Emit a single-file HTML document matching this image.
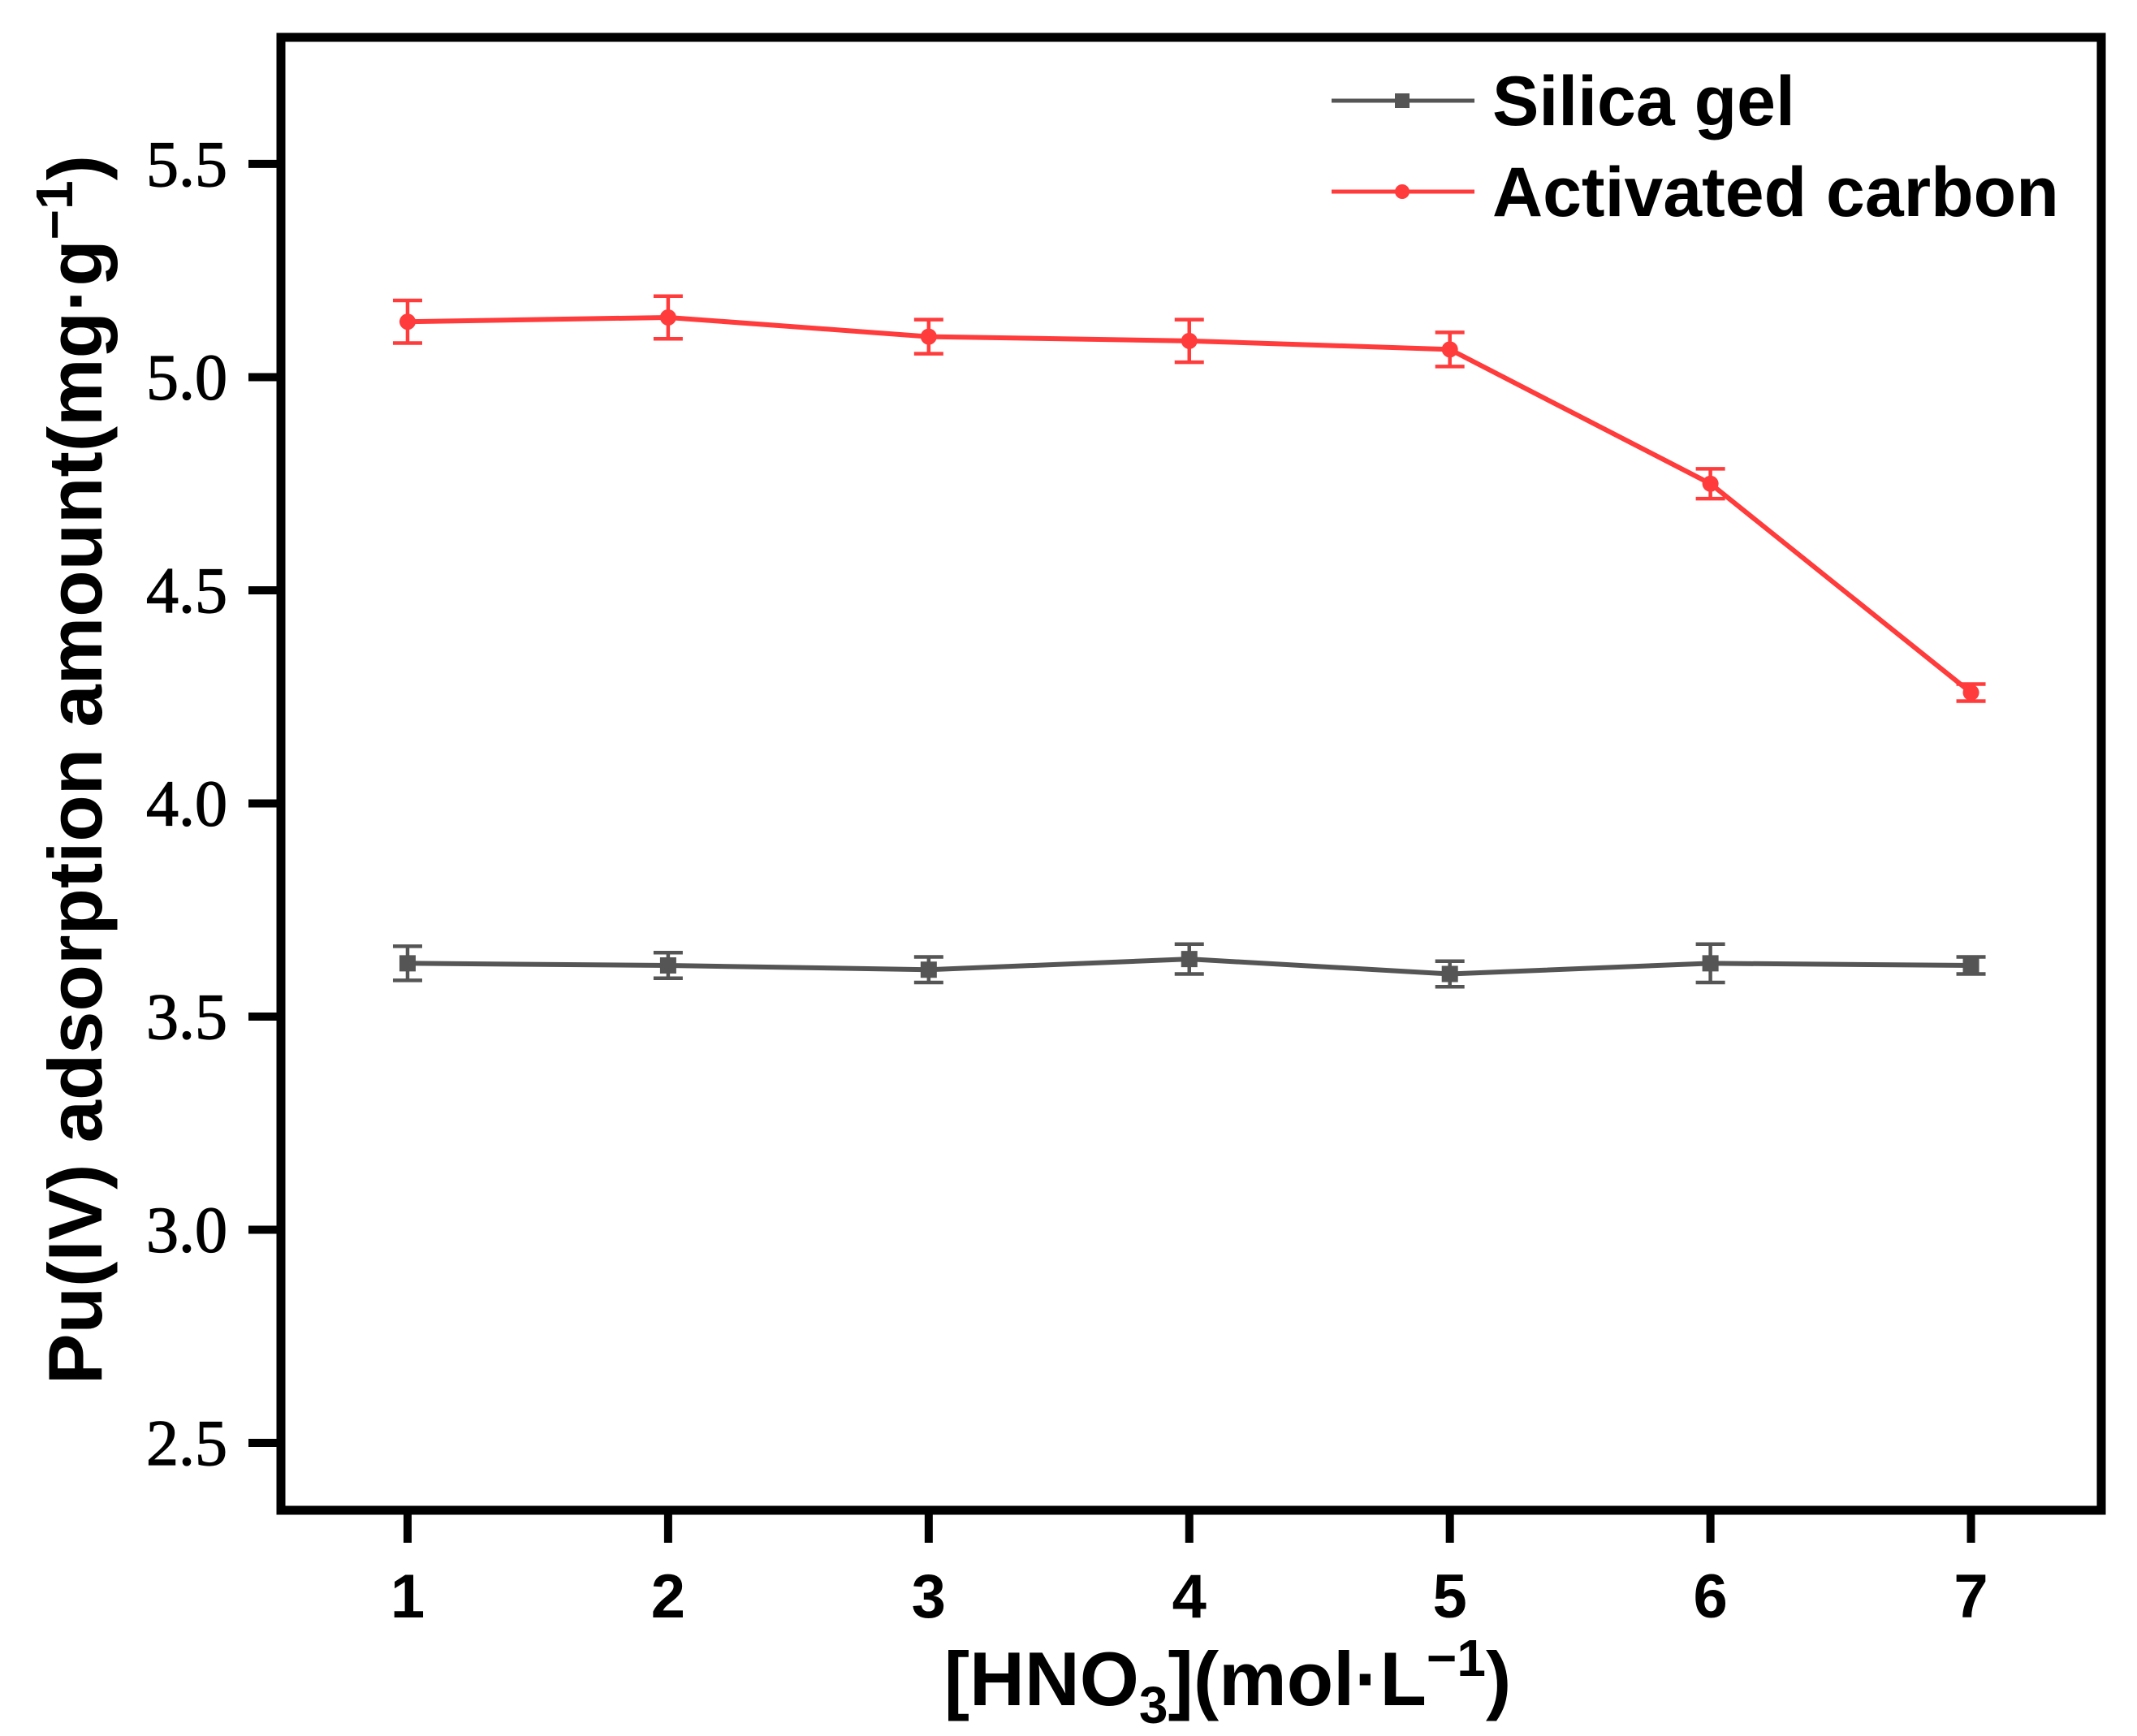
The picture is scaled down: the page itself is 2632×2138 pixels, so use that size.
<!DOCTYPE html>
<html><head><meta charset="utf-8"><style>
html,body{margin:0;padding:0;background:#fff;}
svg{display:block;}
</style></head><body>
<svg id="chart" width="2632" height="2138" viewBox="0 0 2632 2138" xmlns="http://www.w3.org/2000/svg">
<g id="plot"></g>
</svg>
<script>
const categories=[1,2,3,4,5,6,7];
const silicaValues=[3.625,3.62,3.61,3.635,3.6,3.625,3.62];
const silicaErrors=[0.04,0.03,0.03,0.035,0.03,0.045,0.02];
const carbonValues=[5.13,5.14,5.095,5.085,5.065,4.75,4.26];
const carbonErrors=[0.05,0.05,0.04,0.05,0.04,0.035,0.02];
const yTicks=[2.5,3.0,3.5,4.0,4.5,5.0,5.5];
const yTickLabels=["2.5","3.0","3.5","4.0","4.5","5.0","5.5"];
const xTickLabels=["1","2","3","4","5","6","7"];

const NS="http://www.w3.org/2000/svg";
const L=346,R=2588,T=46,B=1860;
const xMin=0.514,xMax=7.5,yMin=2.342,yMax=5.797;
function xs(v){return L+(v-xMin)/(xMax-xMin)*(R-L);}
function ys(v){return B-(v-yMin)/(yMax-yMin)*(B-T);}
const svg=document.getElementById('chart');
function mk(tag,attrs,parent){const e=document.createElementNS(NS,tag);for(const k in attrs)e.setAttribute(k,attrs[k]);(parent||svg).appendChild(e);return e;}

yTicks.forEach((t,i)=>{
  const y=ys(t);
  const tk=mk('line',{x1:L-40,x2:L,y1:y,y2:y,stroke:'#000','stroke-width':10});
  
  
  const tx=mk('text',{x:280,y:y+27,'text-anchor':'end','font-family':'Liberation Serif, serif','font-size':80,fill:'#000',stroke:'#000','stroke-width':1.2});
  tx.textContent=yTickLabels[i];
  
  
});
categories.forEach((c,i)=>{
  const x=xs(c);
  const tk=mk('line',{x1:x,x2:x,y1:B,y2:B+40,stroke:'#000','stroke-width':10});
  
  
  const tx=mk('text',{x:x,y:1992,'text-anchor':'middle','font-family':'Liberation Sans, sans-serif','font-weight':'bold','font-size':76,fill:'#000'});
  tx.textContent=xTickLabels[i];
  
  
});

function series(vals,errs,color,name,square){
  const pts=categories.map((c,i)=>xs(c)+','+ys(vals[i])).join(' ');
  const pl=mk('polyline',{points:pts,fill:'none',stroke:color,'stroke-width':6});
  
  
  categories.forEach((c,i)=>{
    const x=xs(c),y1=ys(vals[i]+errs[i]),y2=ys(vals[i]-errs[i]);
    const g=mk('g',{stroke:color,'stroke-width':4.5});
    
    
    mk('line',{x1:x,x2:x,y1:y1,y2:y2},g);
    mk('line',{x1:x-18,x2:x+18,y1:y1,y2:y1},g);
    mk('line',{x1:x-18,x2:x+18,y1:y2,y2:y2},g);
    let m;
    if(square) m=mk('rect',{x:x-10,y:ys(vals[i])-10,width:20,height:20,fill:color});
    else m=mk('circle',{cx:x,cy:ys(vals[i]),r:10,fill:color});
    
    
  });
}
series(silicaValues,silicaErrors,'#555555','silica-gel',true);
series(carbonValues,carbonErrors,'#ff3b3b','activated-carbon',false);

const fr=mk('rect',{x:L,y:T,width:R-L,height:B-T,fill:'none',stroke:'#000','stroke-width':11});



function leg(y,color,label,nm,square){
  const g=mk('g',{});
  
  
  mk('line',{x1:1640,x2:1816,y1:y,y2:y,stroke:color,'stroke-width':5},g);
  if(square) mk('rect',{x:1718,y:y-9,width:18,height:18,fill:color},g);
  else mk('circle',{cx:1727,cy:y,r:9,fill:color},g);
  const t=mk('text',{x:1838,y:y+30,'font-family':'Liberation Sans, sans-serif','font-weight':'bold','font-size':86,fill:'#000'},g);
  t.textContent=label;
}
leg(124,'#555555','Silica gel','legend-silica-gel',true);
leg(236,'#ff3b3b','Activated carbon','legend-activated-carbon',false);
</script>
<svg style="position:absolute;left:0;top:0" width="2632" height="2138" xmlns="http://www.w3.org/2000/svg">
<text transform="translate(125,948) rotate(-90)" text-anchor="middle" font-family="Liberation Sans, sans-serif" font-weight="bold" font-size="94" fill="#000">Pu(IV) adsorption amount(mg·g<tspan dy="-36" font-size="64">−1</tspan><tspan dy="36">)</tspan></text>
<text x="1512" y="2100" text-anchor="middle" font-family="Liberation Sans, sans-serif" font-weight="bold" font-size="94" fill="#000">[HNO<tspan dy="22" font-size="64">3</tspan><tspan dy="-22">](mol·L</tspan><tspan dy="-36" font-size="64">−1</tspan><tspan dy="36">)</tspan></text>
</svg>
</body></html>
